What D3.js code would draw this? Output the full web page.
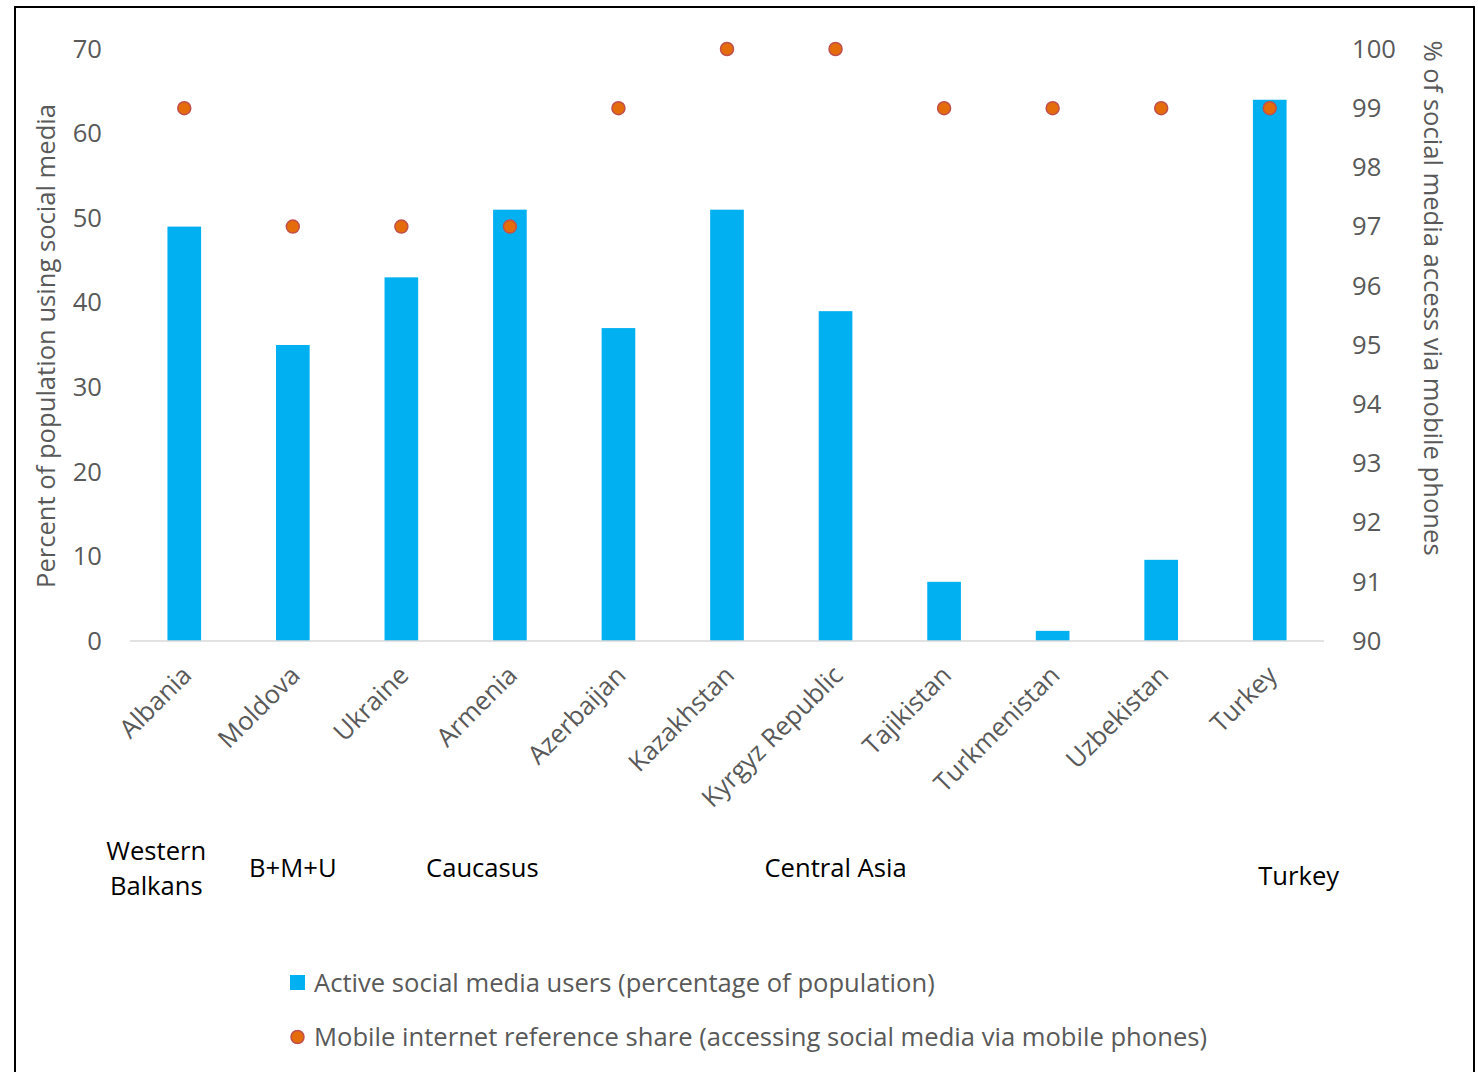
<!DOCTYPE html>
<html>
<head>
<meta charset="utf-8">
<script src="https://cdn.jsdelivr.net/npm/d3@7/dist/d3.min.js"></script>
<style>
  html, body { margin: 0; padding: 0; background: #fff; }
  svg { display: block; }
  text { font-family: "Open Sans", "Noto Sans", sans-serif; }
</style>
</head>
<body>
<script>
// Countries along the x axis
const countries = ["Albania", "Moldova", "Ukraine", "Armenia", "Azerbaijan", "Kazakhstan",
  "Kyrgyz Republic", "Tajikistan", "Turkmenistan", "Uzbekistan", "Turkey"];
// Active social media users, % of population (left axis)
const activeUsers = [49, 35, 43, 51, 37, 51, 39, 7, 1.2, 9.6, 64];
// Share accessing social media via mobile phones, % (right axis)
const mobileShare = [99, 97, 97, 97, 99, 100, 100, 99, 99, 99, 99];
// Axis ticks
const leftTicks = [0, 10, 20, 30, 40, 50, 60, 70];
const rightTicks = [90, 91, 92, 93, 94, 95, 96, 97, 98, 99, 100];
// Regional groupings printed under the country labels (anchor = country the label sits under)
const regionLabels = [["Western", "Balkans"], ["B+M+U"], ["Caucasus"], ["Central Asia"], ["Turkey"]];
const regionAnchors = ["Albania", "Moldova", "Ukraine", "Kyrgyz Republic", "Turkey"];
const legendItems = [
  "Active social media users (percentage of population)",
  "Mobile internet reference share (accessing social media via mobile phones)"
];

const W = 1478, H = 1072;
const plot = { left: 130, right: 1324, top: 49, bottom: 641 };
const barColor = "#00B0F0", dotFill = "#E46C0A", dotStroke = "#C0504D";
const tickColor = "#595959";
const fs = "25.6px";

const svg = d3.select("body").append("svg").attr("width", W).attr("height", H);

// outer frame
svg.append("path")
  .attr("d", `M15,${H + 2} L15,7 L1474,7 L1474,${H + 2}`)
  .attr("fill", "none").attr("stroke", "#000").attr("stroke-width", 2);

const x = d3.scaleBand().domain(countries).range([plot.left, plot.right]).paddingInner(0.69).paddingOuter(0.345);
const cx = d => x(d) + x.bandwidth() / 2;
const yL = d3.scaleLinear().domain([0, 70]).range([plot.bottom, plot.top]);
const yR = d3.scaleLinear().domain([90, 100]).range([plot.bottom, plot.top]);

// left axis
const leftAxis = svg.append("g").attr("transform", `translate(${plot.left},0)`)
  .call(d3.axisLeft(yL).tickValues(leftTicks).tickSize(0).tickPadding(28));
leftAxis.select(".domain").remove();
leftAxis.selectAll("text").attr("fill", tickColor).style("font-size", fs);

// right axis
const rightAxis = svg.append("g").attr("transform", `translate(${plot.right},0)`)
  .call(d3.axisRight(yR).tickValues(rightTicks).tickSize(0).tickPadding(28));
rightAxis.select(".domain").remove();
rightAxis.selectAll("text").attr("fill", tickColor).style("font-size", fs);

// bars
svg.append("g").selectAll("rect").data(countries).join("rect")
  .attr("x", d => x(d))
  .attr("width", x.bandwidth())
  .attr("y", (d, i) => yL(activeUsers[i]))
  .attr("height", (d, i) => yL(0) - yL(activeUsers[i]))
  .attr("fill", barColor);

// baseline
svg.append("line")
  .attr("x1", plot.left).attr("x2", plot.right)
  .attr("y1", yL(0)).attr("y2", yL(0))
  .attr("stroke", "#D9D9D9").attr("stroke-width", 1.5);

// markers
svg.append("g").selectAll("circle").data(countries).join("circle")
  .attr("cx", cx)
  .attr("cy", (d, i) => yR(mobileShare[i]))
  .attr("r", 6.5)
  .attr("fill", dotFill).attr("stroke", dotStroke).attr("stroke-width", 1.5);

// rotated country labels
svg.append("g").selectAll("text").data(countries).join("text")
  .attr("transform", d => `translate(${cx(d) + 4},${plot.bottom + 31}) rotate(-45)`)
  .attr("text-anchor", "end")
  .attr("dominant-baseline", "middle")
  .attr("fill", tickColor)
  .style("font-size", fs)
  .text(d => d);

// axis titles
svg.append("text")
  .attr("transform", `translate(48,346) rotate(-90)`)
  .attr("text-anchor", "middle").attr("dominant-baseline", "middle")
  .attr("fill", tickColor).style("font-size", fs)
  .text("Percent of population using social media");
svg.append("text")
  .attr("transform", `translate(1431,298) rotate(90)`)
  .attr("text-anchor", "middle").attr("dominant-baseline", "middle")
  .attr("fill", tickColor).style("font-size", fs)
  .text("% of social media access via mobile phones");

// region labels
const regionY = [851, 868, 868, 868, 876];
const regionDx = [-28, 0, 81, 0, 29];
const regionG = svg.append("g");
regionLabels.forEach((lines, i) => {
  lines.forEach((ln, k) => {
    regionG.append("text")
      .attr("x", cx(regionAnchors[i]) + regionDx[i]).attr("y", regionY[i] + 2 + k * 35)
      .attr("text-anchor", "middle").attr("dominant-baseline", "middle")
      .attr("fill", "#000").style("font-size", fs)
      .text(ln);
  });
});

// legend
const lg = svg.append("g");
lg.append("rect").attr("x", 290).attr("y", 975).attr("width", 15).attr("height", 15).attr("fill", barColor);
lg.append("text").attr("x", 314).attr("y", 985).attr("dominant-baseline", "middle")
  .attr("fill", tickColor).style("font-size", fs).text(legendItems[0]);
lg.append("circle").attr("cx", 297.5).attr("cy", 1037).attr("r", 6.5)
  .attr("fill", dotFill).attr("stroke", dotStroke).attr("stroke-width", 1.5);
lg.append("text").attr("x", 314).attr("y", 1039).attr("dominant-baseline", "middle")
  .attr("fill", tickColor).style("font-size", fs).text(legendItems[1]);
</script>
</body>
</html>
